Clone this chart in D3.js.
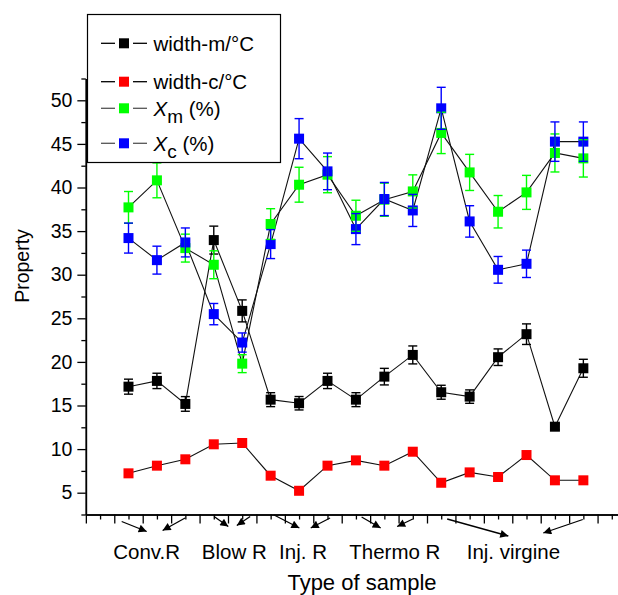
<!DOCTYPE html>
<html><head><meta charset="utf-8">
<script src="https://cdn.jsdelivr.net/npm/d3@7"></script>
<style>body{margin:0;background:#fff}svg{display:block}</style>
</head><body>
<svg id="c" width="618" height="595"></svg>
<script>
// ---- data ----
const samples = d3.range(1, 18);
const widthM    = [17.16,17.82,15.18,33.97,25.85,15.67,15.26,17.82,15.67,18.31,20.8,16.52,16.02,20.54,23.18,12.57,19.27];
const widthMErr = [0.86,0.88,0.84,1.6,1.26,0.8,0.77,0.88,0.8,0.95,1.03,0.8,0.77,0.95,1.18,0.35,1.03];
const widthC    = [7.22,8.1,8.83,10.55,10.7,6.95,5.22,8.1,8.71,8.1,9.7,6.14,7.33,6.8,9.32,6.42,6.42];
const xm        = [37.72,40.82,33.05,31.14,19.8,35.81,40.32,41.47,36.76,38.6,39.55,46.26,41.73,37.22,39.44,43.96,43.34];
const xmErr     = [1.82,2.0,1.6,1.6,1.03,1.76,2.0,2.07,1.78,1.9,1.9,2.37,2.07,1.86,1.95,2.18,2.14];
const xc        = [34.2,31.67,33.7,25.48,22.22,33.51,45.6,41.85,35.23,38.68,37.37,49.08,36.11,30.56,31.25,45.26,45.26];
const xcErr     = [1.72,1.6,1.66,1.22,1.1,1.66,2.3,2.1,1.78,1.9,1.84,2.41,1.8,1.53,1.57,2.26,2.26];
const yTicks = [5,10,15,20,25,30,35,40,45,50];
const categories = ["Conv.R","Blow R","Inj. R","Thermo R","Inj. virgine"];
const categoryPos = [1.64, 4.72, 7.14, 10.37, 14.54];
// arrows: [fromX, toX] in sample units
const arrowsFrom = [0.76, 2.99, 4.01, 5.28, 6.12, 8.09, 9.2, 11.0, 12.21, 16.98];
const arrowsTo   = [1.64, 2.2, 4.51, 4.81, 7.01, 7.41, 9.87, 10.45, 14.36, 15.59];
const arrowsTopOff = [7, 3.5, 2, 2, 0.5, 3.5, 2.5, 4.5, 4.5, 5];
const arrowsBotOff = [17, 16, 12, 11, 13.5, 13.5, 13.5, 12, 21.5, 18.5];

const series = [
  {name:"width-m/°C", values:widthM, err:widthMErr, color:"#000000", legendLine:"#000"},
  {name:"width-c/°C", values:widthC, err:null,      color:"#ff0000", legendLine:"#000"},
  {name:"Xm",         sub:"m", values:xm, err:xmErr, color:"#00ff00", legendLine:"#555"},
  {name:"Xc",         sub:"c", values:xc, err:xcErr, color:"#0000ff", legendLine:"#555"}
];

const FONT = "'Liberation Sans', Arial, sans-serif";
const svg = d3.select("#c");
const x = d3.scaleLinear().domain([-0.5, 18.5]).range([85.85, 626]);
const y = d3.scaleLinear().domain([2.5, 52.5]).range([514.5, 78.5]);

// ---- axes ----
const yAxisG = svg.append("g").attr("transform", `translate(${x(-0.5)},0)`);
yAxisG.call(d3.axisLeft(y).tickValues(d3.range(2.5, 53, 5)).tickSize(4.5).tickFormat("").tickSizeOuter(0));
yAxisG.append("g").call(d3.axisLeft(y).tickValues(yTicks).tickSize(8.5).tickPadding(5).tickSizeOuter(0));
yAxisG.selectAll("path.domain").attr("stroke","#000").attr("stroke-width",1.5);
yAxisG.selectAll(".tick line").attr("stroke","#000").attr("stroke-width",1.3);
yAxisG.selectAll(".tick text").attr("font-family",FONT).attr("font-size","19.5px").attr("fill","#000");

const xAxisG = svg.append("g").attr("transform", `translate(0,${y(2.5)})`);
xAxisG.call(d3.axisBottom(x).tickValues(d3.range(0, 19, 1)).tickSize(5).tickFormat("").tickSizeOuter(0));
xAxisG.append("g").call(d3.axisBottom(x).tickValues(d3.range(-0.5, 19, 1)).tickSize(9).tickFormat("").tickSizeOuter(0));
xAxisG.selectAll("path.domain").attr("stroke","#000").attr("stroke-width",1.5);
xAxisG.selectAll(".tick line").attr("stroke","#000").attr("stroke-width",1.3);

// category labels
svg.append("g").selectAll("text").data(categories).join("text")
  .attr("x",(d,i)=>x(categoryPos[i])).attr("y",559)
  .attr("text-anchor","middle").attr("font-family",FONT).attr("font-size","20.5px").text(d=>d);

// arrows
const defs = svg.append("defs");
defs.append("marker").attr("id","ah").attr("viewBox","0 0 10 10").attr("refX",10).attr("refY",5)
  .attr("markerWidth",12).attr("markerHeight",8).attr("markerUnits","userSpaceOnUse").attr("orient","auto")
  .append("path").attr("d","M0,0 L10,5 L0,10 z").attr("fill","#000");
svg.append("g").selectAll("line").data(arrowsFrom).join("line")
  .attr("x1",(d)=>x(d)).attr("y1",(d,i)=>y(2.5)+arrowsTopOff[i])
  .attr("x2",(d,i)=>x(arrowsTo[i])).attr("y2",(d,i)=>y(2.5)+arrowsBotOff[i])
  .attr("stroke","#000").attr("stroke-width",1.3).attr("marker-end","url(#ah)");

// axis titles
svg.append("text").attr("x",362).attr("y",590).attr("text-anchor","middle")
  .attr("font-family",FONT).attr("font-size","22px").text("Type of sample");
svg.append("text").attr("transform","translate(29,266) rotate(-90)").attr("text-anchor","middle")
  .attr("font-family",FONT).attr("font-size","19.5px").text("Property");

// ---- data marks ----
const line = d3.line().x((d,i)=>x(samples[i])).y(d=>y(d));
const plot = svg.append("g");
series.forEach(s=>{
  plot.append("path").attr("d",line(s.values)).attr("fill","none").attr("stroke","#111").attr("stroke-width",1.1);
});
const MS = 10;
series.forEach(s=>{
  plot.append("g").selectAll("rect").data(s.values).join("rect")
    .attr("x",(d,i)=>x(samples[i])-MS/2).attr("y",d=>y(d)-MS/2)
    .attr("width",MS).attr("height",MS).attr("fill",s.color);
});
series.forEach(s=>{
  if(!s.err) return;
  const g = plot.append("g").attr("stroke",s.color).attr("stroke-width",1.4);
  s.values.forEach((v,i)=>{
    const cx = x(samples[i]), t = y(v+s.err[i]), b = y(v-s.err[i]);
    g.append("line").attr("x1",cx).attr("x2",cx).attr("y1",t).attr("y2",b);
    g.append("line").attr("x1",cx-4.5).attr("x2",cx+4.5).attr("y1",t).attr("y2",t);
    g.append("line").attr("x1",cx-4.5).attr("x2",cx+4.5).attr("y1",b).attr("y2",b);
  });
});

// ---- legend ----
const lg = svg.append("g");
lg.append("rect").attr("x",87.5).attr("y",14.5).attr("width",193).attr("height",148)
  .attr("fill","#fff").attr("stroke","#000").attr("stroke-width",1.2);
const ly = [43.3, 81.7, 108.3, 143.3];
series.forEach((s,i)=>{
  const g = lg.append("g").attr("transform",`translate(0,${ly[i]})`);
  g.append("line").attr("x1",101).attr("x2",115).attr("stroke",s.legendLine).attr("stroke-width",1.3);
  g.append("line").attr("x1",133).attr("x2",147).attr("stroke",s.legendLine).attr("stroke-width",1.3);
  g.append("rect").attr("x",119).attr("y",-5).attr("width",10).attr("height",10).attr("fill",s.color);
  const t = g.append("text").attr("x",153.5).attr("y",7.5).attr("font-family",FONT).attr("font-size","20.5px");
  if(s.sub){
    t.append("tspan").attr("font-style","italic").text("X");
    t.append("tspan").attr("dy",7).attr("font-size","19px").text(s.sub);
    t.append("tspan").attr("dy",-7).text("\u00a0(%)");
  } else t.text(s.name);
});
</script>
</body></html>
